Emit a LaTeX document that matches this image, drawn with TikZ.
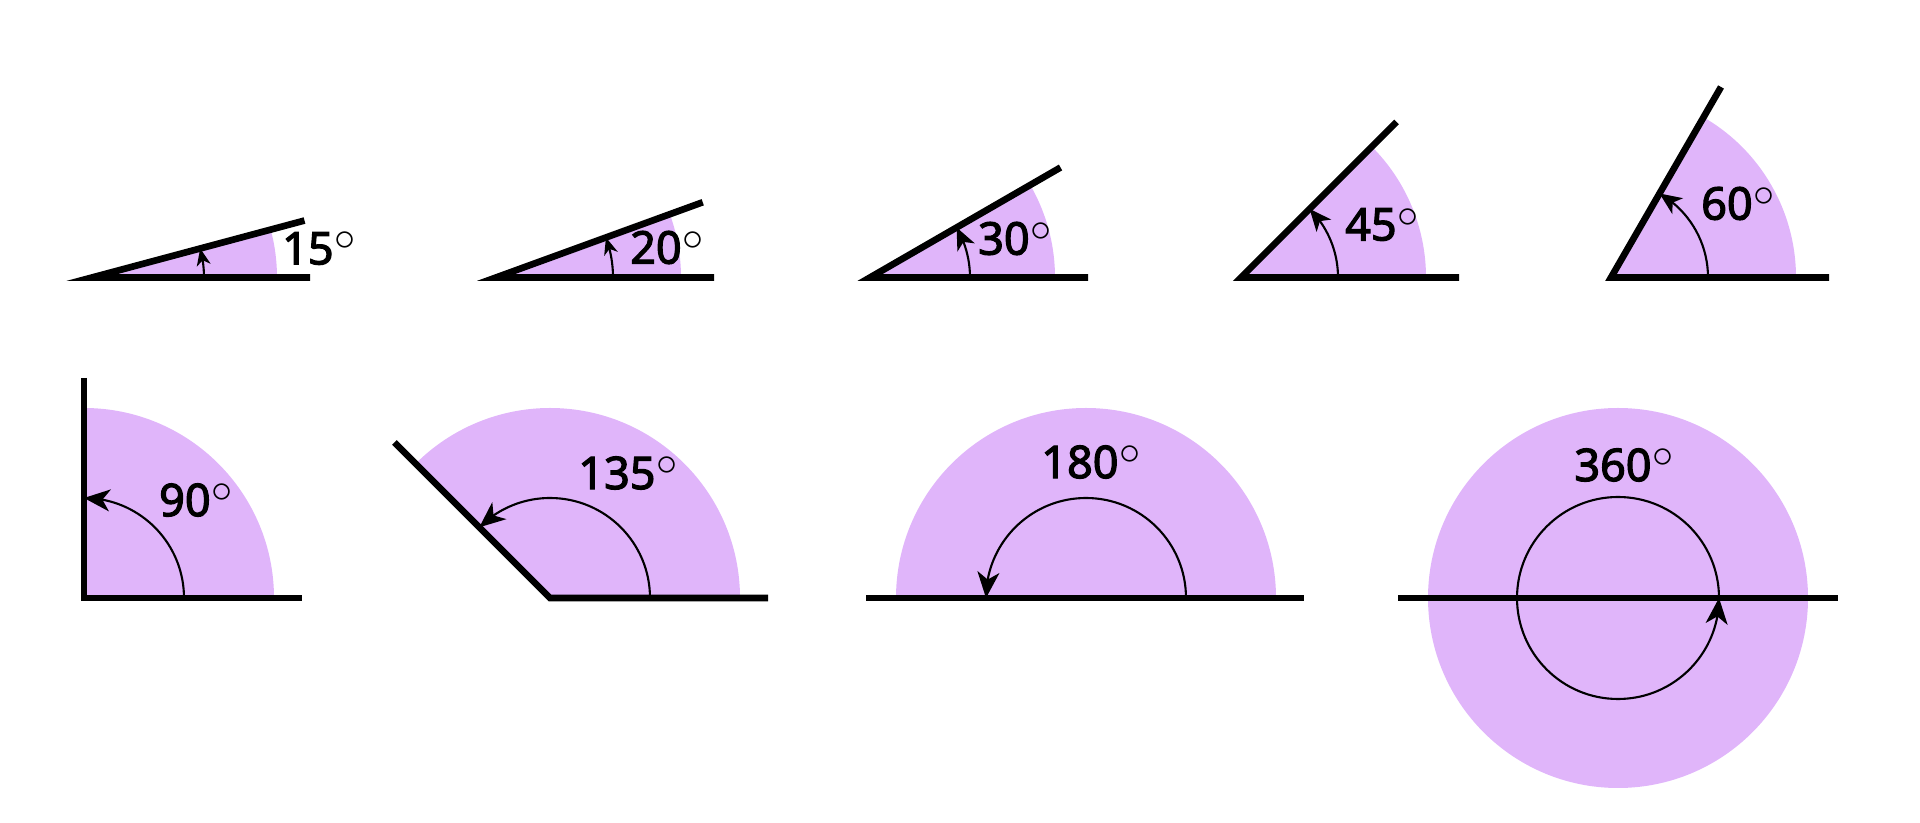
\documentclass[tikz,border=0pt]{standalone}
\usepackage{fontspec}
\setmainfont{Noto Sans}
\newfontfamily\lblfont{Noto Sans}[FakeBold=2.6]
\usetikzlibrary{arrows.meta,bending,calc}
\definecolor{lilac}{RGB}{224,181,250}
\newcommand{\degsign}{\hspace{0.3pt}\raisebox{3.8pt}{$\circ$}}

\begin{document}
\begin{tikzpicture}[
  angfill/.style={fill=lilac},
  leg/.style={line width=1.9pt,line join=miter},
  turn/.style={line width=0.6pt},
  tipsmall/.style={-{Stealth[length=1.7mm,width=1.4mm,inset=0.5mm]}},
  tipmid/.style={-{Stealth[length=2.2mm,width=1.9mm,inset=0.6mm]}},
  tipbig/.style={-{Stealth[length=2.6mm,width=2.2mm,inset=0.75mm]}},
  deg/.style={font=\lblfont\fontsize{12.8}{14}\selectfont,inner sep=0pt}
]
\useasboundingbox (0,0) rectangle (19.2,8.23);

% top row: 15 to 60 degrees
\foreach \a/\vx/\ar/\tip/\lx/\ly in {15/0.92/1.12/tipsmall/2.27/0.29,
  20/4.96/1.17/tipsmall/1.71/0.30, 30/8.70/1.0/tipmid/1.45/0.39,
  45/12.41/0.97/tipmid/1.41/0.53, 60/16.11/0.97/tipmid/1.27/0.74}
{
	\coordinate (v\a) at (\vx,5.455);
	\fill[angfill] (v\a) -- ++(0:1.85) arc[start angle=0,end angle=\a,radius=1.85] -- cycle;
	\draw[turn,\tip] (v\a) ++(0:\ar) arc[start angle=0,end angle=\a,radius=\ar];
	\draw[leg] (v\a) ++(\a:2.2) -- (v\a) -- ++(2.18,0);
	\node[deg] (l\a) at ($(v\a)+(\lx,\ly)$) {\a\degsign};
}

% bottom row: 90, 135, 180
\foreach \a/\vx/\lx/\ly in {90/0.84/1.12/0.98, 135/5.50/0.78/1.25, 180/10.86/0.05/1.36}
{
	\coordinate (v\a) at (\vx,2.25);
	\fill[angfill] (v\a) -- ++(0:1.9) arc[start angle=0,end angle=\a,radius=1.9] -- cycle;
	\draw[turn,tipbig] (v\a) ++(0:1.0) arc[start angle=0,end angle=\a,radius=1.0];
	\draw[leg] (v\a) ++(\a:2.2) -- (v\a) -- ++(2.18,0);
	\node[deg] (l\a) at ($(v\a)+(\lx,\ly)$) {\a\degsign};
}

% full turn
\coordinate (v360) at (16.18,2.25);
\fill[angfill] (v360) circle[radius=1.9];
\draw[turn,tipbig] (v360) ++(0:1.01) arc[start angle=0,end angle=360,radius=1.01];
\draw[leg] (v360) ++(180:2.2) -- ++(4.4,0);
\node[deg] (l360) at ($(v360)+(0.06,1.33)$) {360\degsign};

\end{tikzpicture}
\end{document}
